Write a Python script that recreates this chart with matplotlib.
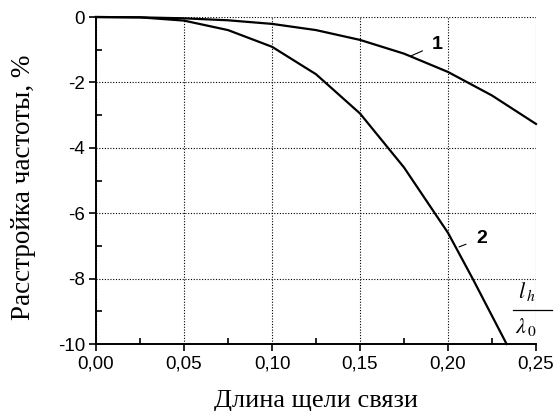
import numpy as np
import matplotlib
matplotlib.use('Agg')
import matplotlib.pyplot as plt
from matplotlib.ticker import MultipleLocator, FuncFormatter

# Кривая 1 и кривая 2 (расстройка частоты, %)
x1 = [0.0, 0.025, 0.05, 0.075, 0.10, 0.125, 0.15, 0.175, 0.20, 0.225, 0.25]
y1 = [0.0, -0.01, -0.04, -0.10, -0.21, -0.40, -0.70, -1.12, -1.68, -2.40, -3.27]
x2 = [0.0, 0.025, 0.05, 0.075, 0.10, 0.125, 0.15, 0.175, 0.20, 0.214, 0.2333]
y2 = [0.0, -0.01, -0.11, -0.40, -0.91, -1.75, -2.95, -4.60, -6.60, -8.00, -10.0]

xticks = [0.0, 0.05, 0.10, 0.15, 0.20, 0.25]
yticks = [0, -2, -4, -6, -8, -10]

plt.rcParams['font.family'] = 'Liberation Sans'

fig = plt.figure(figsize=(5.56, 4.11), dpi=100)
ax = fig.add_axes([0.1727, 0.163, 0.7913, 0.7956])

ax.plot(x1, y1, 'k', lw=1.6, clip_on=False)
ax.plot(x2, y2, 'k', lw=1.6, clip_on=False)

ax.set_xlim(0, 0.25)
ax.set_ylim(-10, 0)
ax.set_xticks(xticks)
ax.set_yticks(yticks)
ax.xaxis.set_minor_locator(MultipleLocator(0.025))
ax.yaxis.set_minor_locator(MultipleLocator(1))
ax.xaxis.set_major_formatter(FuncFormatter(lambda v, p: f'{v:.2f}'.replace('.', ',')))
ax.yaxis.set_major_formatter(FuncFormatter(lambda v, p: f'{v:.0f}'))
ax.tick_params(which='major', direction='out', length=5, width=1.2, labelsize=13.5, pad=3)
ax.tick_params(which='minor', direction='in', length=4, width=1.2)

for s in ['top', 'right']:
    ax.spines[s].set_visible(False)
for s in ['left', 'bottom']:
    ax.spines[s].set_linewidth(1.4)

ax.grid(True, which='major', color='k', linestyle=(0, (1, 1.5)), lw=0.8)
ax.set_axisbelow(True)

ax.set_xlabel('Длина щели связи', family='Liberation Serif', fontsize=19)
ax.set_ylabel('Расстройка частоты, %', family='Liberation Serif', fontsize=19.5)
ax.xaxis.set_label_coords(0.5, -0.141)
ax.yaxis.set_label_coords(-0.137, 0.479)

# подписи кривых
ax.annotate('1', xy=(0.1785, -1.2), xytext=(0.1938, -0.84), fontsize=14, fontweight='bold',
            ha='center', va='center', arrowprops=dict(arrowstyle='-', lw=0.8, shrinkA=5, shrinkB=0))
ax.annotate('2', xy=(0.2063, -7.03), xytext=(0.2193, -6.76), fontsize=14, fontweight='bold',
            ha='center', va='center', arrowprops=dict(arrowstyle='-', lw=0.8, shrinkA=6, shrinkB=0))

# дробь l_h / λ_0
ax.text(0.2450, -8.75, r'$l_{\,h}$', fontsize=16, ha='center', va='bottom',
        family='Liberation Serif', math_fontfamily='stix')
ax.plot([0.2370, 0.2591], [-8.96, -8.96], 'k', lw=0.9, clip_on=False)
ax.text(0.2440, -9.15, r'$\lambda_{\,0}$', fontsize=16, ha='center', va='top',
        family='Liberation Serif', math_fontfamily='stix')

fig.savefig('out.png', dpi=100)
